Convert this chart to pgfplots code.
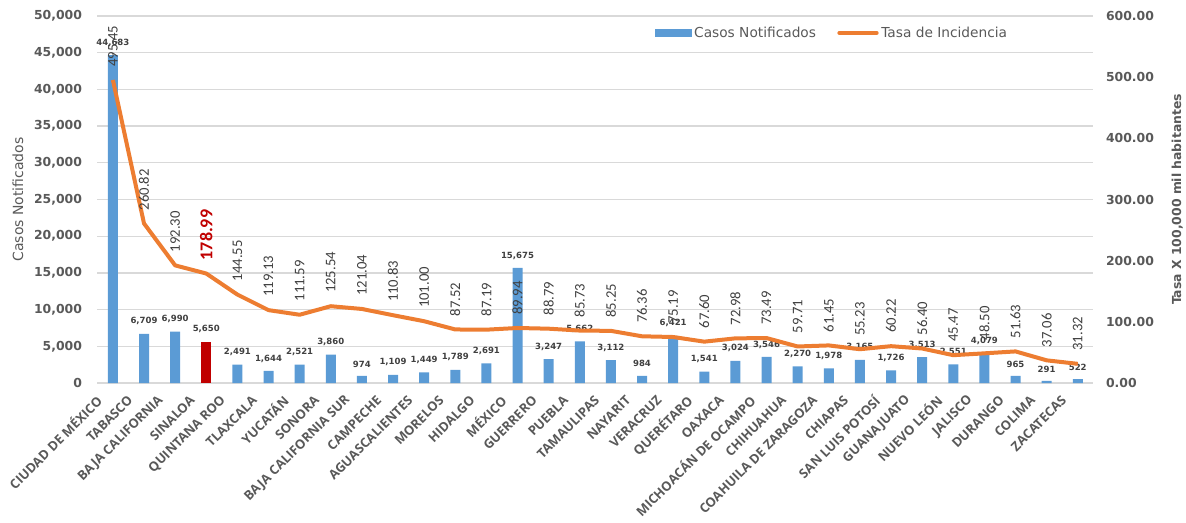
\documentclass[border=0pt]{standalone}
\usepackage{pgfplots}
\pgfplotsset{compat=1.18}
\usepackage{fontspec}
\setmainfont{Open Sans}
\newfontfamily\calibri{Carlito}
\newfontfamily\verd{DejaVu Sans}

\definecolor{cblue}{HTML}{5B9BD5}
\definecolor{cred}{HTML}{C00000}
\definecolor{corange}{HTML}{ED7D31}
\definecolor{tgray}{HTML}{595959}
\definecolor{tdark}{HTML}{404040}
\definecolor{ggrid}{HTML}{D9D9D9}

\pgfplotsset{
  comun/.style={
    scale only axis,
    width=747pt, height=275.25pt,
    at={(0,0)}, anchor=south west,
    xmin=-0.5, xmax=31.5,
    axis line style={draw=none},
    major tick length=0pt,
    tick style={draw=none},
    ticklabel style={font=\verd\bfseries\fontsize{9.3}{10}\selectfont, text=tgray},
    /pgf/number format/assume math mode=true,
  },
}

\begin{document}
\begin{tikzpicture}
% casos notificados (eje izquierdo)
\begin{axis}[comun,
    ymin=0, ymax=50000,
    ytick={0,5000,...,50000},
    scaled y ticks=false,
    yticklabel style={/pgf/number format/fixed, /pgf/number format/1000 sep={,}, xshift=-8pt},
    ymajorgrids,
    grid style={ggrid, line width=1pt},
    xtick={0,...,31},
    xticklabels={CIUDAD DE MÉXICO, TABASCO, BAJA CALIFORNIA, SINALOA, QUINTANA ROO,
      TLAXCALA, YUCATÁN, SONORA, BAJA CALIFORNIA SUR, CAMPECHE, AGUASCALIENTES,
      MORELOS, HIDALGO, MÉXICO, GUERRERO, PUEBLA, TAMAULIPAS, NAYARIT, VERACRUZ,
      QUERÉTARO, OAXACA, MICHOACÁN DE OCAMPO, CHIHUAHUA, COAHUILA DE ZARAGOZA,
      CHIAPAS, SAN LUIS POTOSÍ, GUANAJUATO, NUEVO LEÓN, JALISCO, DURANGO, COLIMA,
      ZACATECAS},
    xticklabel style={font=\bfseries\fontsize{9.7}{10}\selectfont, text=tgray,
      xshift=-8pt, yshift=-9pt, rotate=45, anchor=east},
    ylabel={Casos Notificados},
    ylabel style={at={(axis description cs:0,0.5)}, anchor=center, yshift=59.5pt,
      font=\verd\fontsize{10.5}{11}\selectfont, text=tgray},
    ybar, bar width=7.5pt, bar shift=0pt,
    nodes near coords={\pgfmathprintnumber[assume math mode=true, fixed, precision=0, 1000 sep={,}]{\pgfplotspointmeta}},
    point meta=y,
    every node near coord/.append style={font=\verd\bfseries\fontsize{6.4}{7}\selectfont,
      text=tdark, yshift=3pt},
]
\addplot[fill=cblue, draw=none] coordinates {
  (0,44683) (1,6709) (2,6990) (4,2491) (5,1644) (6,2521) (7,3860) (8,974)
  (9,1109) (10,1449) (11,1789) (12,2691) (13,15675) (14,3247) (15,5662)
  (16,3112) (17,984) (18,6421) (19,1541) (20,3024) (21,3546) (22,2270)
  (23,1978) (24,3165) (25,1726) (26,3513) (27,2551) (28,4079) (29,965)
  (30,291) (31,522)
};
\addplot[fill=cred, draw=none] coordinates {(3,5650)};
\end{axis}

% tasa de incidencia (eje derecho)
\begin{axis}[comun,
    axis x line=none,
    axis y line*=right,
    ymin=0, ymax=600,
    ytick={0,100,...,600},
    yticklabel style={/pgf/number format/fixed, /pgf/number format/fixed zerofill,
      /pgf/number format/precision=2, xshift=6pt},
    ylabel={Tasa X 100,000 mil habitantes},
    ylabel style={at={(axis description cs:1,0.5)}, anchor=center, yshift=-63pt,
      font=\verd\bfseries\fontsize{9.3}{10}\selectfont, text=tgray},
    legend style={at={(axis description cs:0.738,0.954)}, anchor=center,
      draw=none, fill=none, font=\verd\fontsize{10.3}{11}\selectfont, text=tgray,
      legend columns=2, /tikz/every even column/.append style={column sep=14pt}},
    nodes near coords,
    point meta=explicit symbolic,
    every node near coord/.append style={font=\calibri\fontsize{11}{11}\selectfont,
      text=tdark, rotate=90, anchor=west, inner xsep=1pt, outer xsep=9pt},
]
\addlegendimage{legend image code/.code={\fill[cblue] (0pt,-2.6pt) rectangle (27pt,2.6pt);}}
\addlegendentry{Casos Notificados}
\addplot[color=corange, line width=3pt, line join=round, mark=none,
    legend image code/.code={\draw[corange, line width=3pt, line cap=round] (0pt,0pt) -- (28pt,0pt);}]
  coordinates {
  (0,495.45)[495.45] (1,260.82)[260.82] (2,192.30)[192.30]
  (3,178.99)[\textcolor{cred}{\fontsize{13.5}{14}\selectfont\bfseries 178.99}]
  (4,144.55)[144.55] (5,119.13)[119.13] (6,111.59)[111.59] (7,125.54)[125.54]
  (8,121.04)[121.04] (9,110.83)[110.83] (10,101.00)[101.00] (11,87.52)[87.52]
  (12,87.19)[87.19] (13,89.94)[89.94] (14,88.79)[88.79] (15,85.73)[85.73]
  (16,85.25)[85.25] (17,76.36)[76.36] (18,75.19)[75.19] (19,67.60)[67.60]
  (20,72.98)[72.98] (21,73.49)[73.49] (22,59.71)[59.71] (23,61.45)[61.45]
  (24,55.23)[55.23] (25,60.22)[60.22] (26,56.40)[56.40] (27,45.47)[45.47]
  (28,48.50)[48.50] (29,51.63)[51.63] (30,37.06)[37.06] (31,31.32)[31.32]
};
\addlegendentry{Tasa de Incidencia}
\end{axis}

\pgfresetboundingbox
\path[use as bounding box] (-73pt,-104.25pt) rectangle (816.5pt,287.25pt);
\end{tikzpicture}
\end{document}
